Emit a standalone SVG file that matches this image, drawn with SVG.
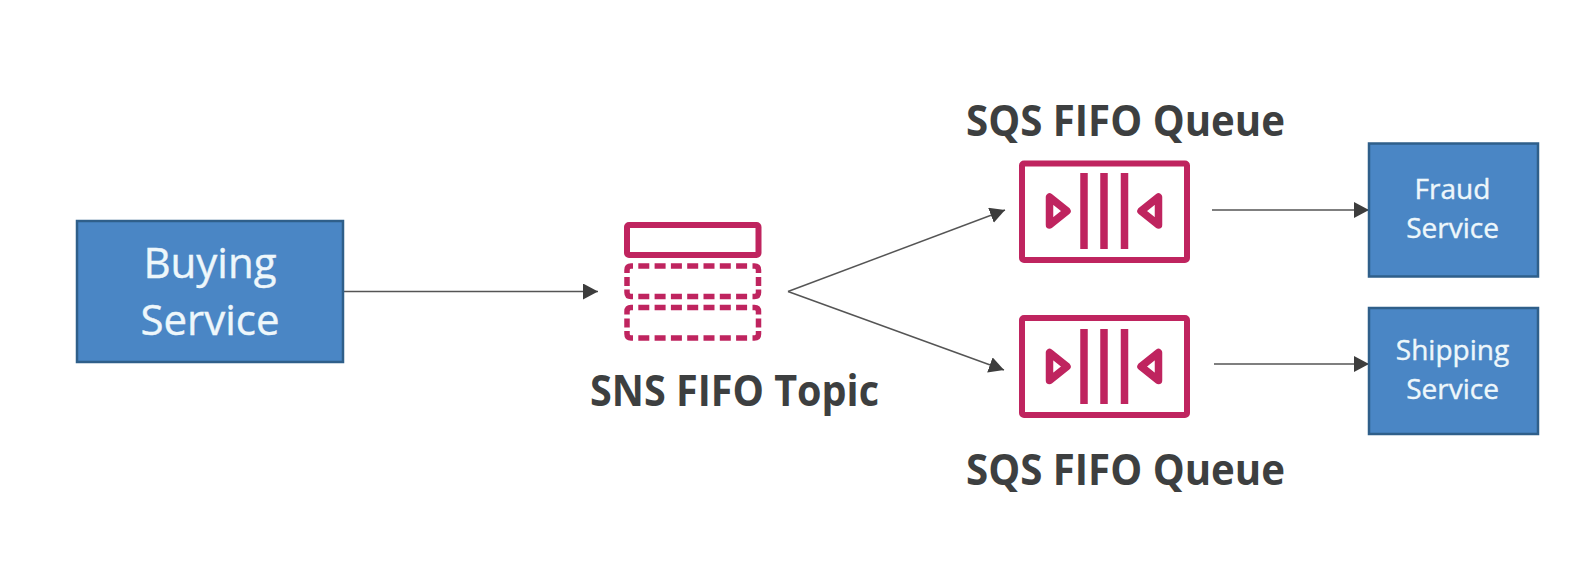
<svg xmlns="http://www.w3.org/2000/svg" width="1596" height="580" viewBox="0 0 1596 580">
<style>
.box{fill:#4a86c5;stroke:#2f5f8a;stroke-width:2.500}
.wt{fill:#eef7fb;font-family:"Open Sans","Noto Sans",sans-serif;text-anchor:middle;stroke:#eef7fb;stroke-width:.4}
.lb{fill:#3d3f40;font-family:"Open Sans","Noto Sans",sans-serif;font-weight:700;font-size:42.500px;text-anchor:middle}
.p{fill:none;stroke:#bf245f;stroke-width:6;stroke-linejoin:round}
.b{fill:none;stroke:#bf245f;stroke-width:7.500}
.t{fill:none;stroke:#bf245f;stroke-width:7.500;stroke-linejoin:round}
.d{fill:none;stroke:#bf245f;stroke-width:5.500}
.dl{stroke-dasharray:11 5.3}
.c{fill:none;stroke:#555;stroke-width:1.500}
</style>
<defs>
<marker id="a" markerUnits="userSpaceOnUse" markerWidth="16" markerHeight="17" refX="15" refY="8" orient="auto"><path d="M0 0L15 8L0 16Z" fill="#3d3d3d"/></marker>
<g id="dashed">
<path class="d dl" d="M11.300 0H120.300M11.300 30.500H120.300"/>
<path class="d" d="M6 0H4Q0 0 0 4V7M125.500 0H127.500Q131.500 0 131.500 4V7M0 23.500V26.500Q0 30.500 4 30.500H6M131.500 23.500V26.500Q131.500 30.500 127.500 30.500H125.500M0 11V20M131.500 11V20"/>
</g>
</defs>
<rect width="1596" height="580" fill="#fff"/>
<g id="connectors">
<path class="c" d="M343 291.500H598" marker-end="url(#a)"/>
<path class="c" d="M788 291.500L1005 210" marker-end="url(#a)"/>
<path class="c" d="M788 291.500L1004 370" marker-end="url(#a)"/>
<path class="c" d="M1212 210H1369" marker-end="url(#a)"/>
<path class="c" d="M1214 364H1369" marker-end="url(#a)"/>
</g>
<g id="buying-service"><rect class="box" x="77" y="221" width="266" height="141"/>
<text class="wt" font-size="42" x="210" y="278">Buying</text><text class="wt" font-size="42" x="210" y="335">Service</text></g>
<g id="sns-fifo-topic">
<rect class="p" x="627" y="225" width="131.500" height="30" rx="2"/>
<use href="#dashed" x="627" y="266"/>
<use href="#dashed" x="627" y="307.500"/>
<text class="lb" x="734.500" y="406" textLength="289" lengthAdjust="spacingAndGlyphs">SNS FIFO Topic</text></g>
<g id="sqs-fifo-queue-1">
<text class="lb" x="1125.500" y="136" textLength="319" lengthAdjust="spacingAndGlyphs">SQS FIFO Queue</text>
<rect class="p" x="1022" y="163.500" width="165" height="96.500" rx="2"/>
<path class="b" d="M1084 173V249M1104 173V249M1124.500 173V249"/>
<path class="t" d="M1067 211L1049.500 197V225ZM1141 211L1158.500 197V225Z"/></g>
<g id="sqs-fifo-queue-2">
<rect class="p" x="1022" y="318" width="165" height="97" rx="2"/>
<path class="b" d="M1084 329V404M1104 329V404M1124.500 329V404"/>
<path class="t" d="M1067 366.500L1049.500 352.500V380.500ZM1141 366.500L1158.500 352.500V380.500Z"/>
<text class="lb" x="1125.500" y="485" textLength="319" lengthAdjust="spacingAndGlyphs">SQS FIFO Queue</text></g>
<g id="fraud-service"><rect class="box" x="1369" y="143.500" width="169" height="133"/>
<text class="wt" font-size="28" x="1452.500" y="199">Fraud</text><text class="wt" font-size="28" x="1452.500" y="238">Service</text></g>
<g id="shipping-service"><rect class="box" x="1369" y="308" width="169" height="126"/>
<text class="wt" font-size="28" x="1452.500" y="360">Shipping</text><text class="wt" font-size="28" x="1452.500" y="399">Service</text></g>
</svg>
